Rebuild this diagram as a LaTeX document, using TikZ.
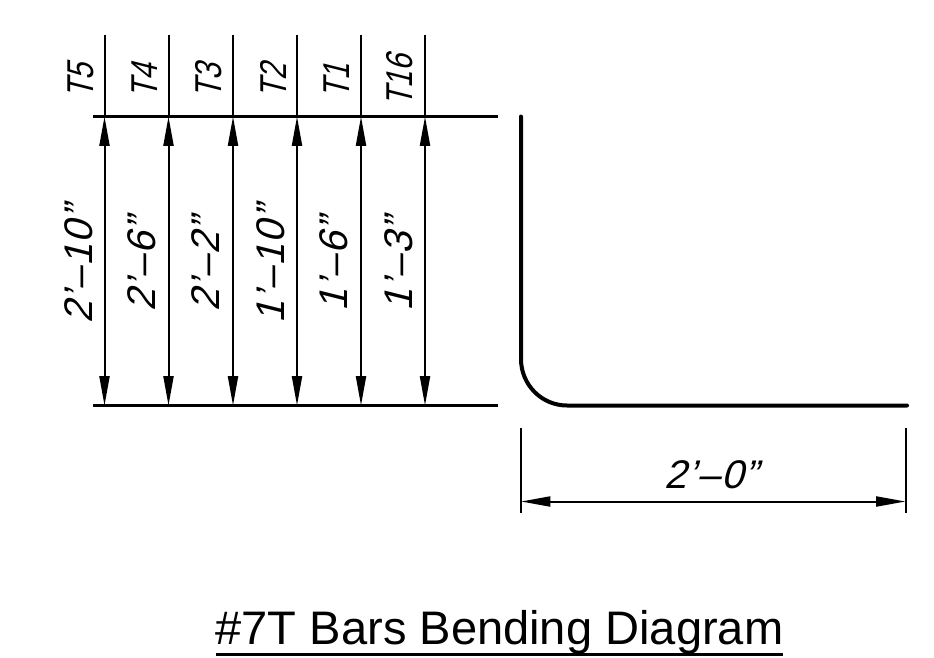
\documentclass[tikz,border=0pt]{standalone}
\usepackage{fontspec}
\setmainfont{Liberation Sans}
\newfontfamily\dimfont[FakeSlant=0.25,LetterSpace=3]{Liberation Sans}
\newfontfamily\tagfont[FakeSlant=0.25,FakeStretch=0.8]{Liberation Sans}
\usetikzlibrary{arrows.meta, calc, positioning}
\tikzset{
    dimline/.style={line width=1.5pt, {Triangle[length=22pt,width=7.5pt]}-{Triangle[length=22pt,width=7.5pt]}},
    extline/.style={line width=1.5pt},
    refline/.style={line width=1.9pt},
    barline/.style={line width=3pt, line cap=round, line join=round},
    dimtext/.style={font=\dimfont\fontsize{30}{33}\selectfont, inner sep=0pt},
    tagtext/.style={font=\tagfont\fontsize{28}{32}\selectfont, inner sep=0pt, rotate=90}
}
\begin{document}
\begin{tikzpicture}[x=0.75pt, y=-0.75pt]
    \useasboundingbox (0,0) rectangle (934,657);
    % Reference lines
    \coordinate (topL) at (93,116.5);
    \coordinate (topR) at (498,116.5);
    \coordinate (botL) at (93,405.5);
    \coordinate (botR) at (498,405.5);
    \draw[refline] (topL) -- (topR);
    \draw[refline] (botL) -- (botR);

    % Bar heights
    \foreach \n/\x/\tx/\tag/\dx/\len in {a/104.5/81/T5/79/2’–10”,
                                        b/168.5/145/T4/142/2’–6”,
                                        c/233/209/T3/206/2’–2”,
                                        d/297/273/T2/271/1’–10”,
                                        e/361/337/T1/334/1’–6”,
                                        f/425/400/T16/399/1’–3”} {
        \coordinate (\n top) at (\x,35);
        \coordinate (\n up) at (\x,116.5);
        \coordinate (\n low) at (\x,405.5);
        \draw[extline] (\n top) -- (\n up);
        \draw[dimline] (\n up) -- (\n low);
        \node[tagtext] (tag\n) at (\tx,81) {\tag};
        \node[dimtext, rotate=90] (len\n) at (\dx,265) {\len};
    }

    % Bent bar
    \coordinate (barTop) at (521,116.5);
    \coordinate (barEnd) at (907,405.5);
    \draw[barline] (barTop) -- (521,359) arc[start angle=180, end angle=270, x radius=46, y radius=-46.5] -- (barEnd);

    % Horizontal leg dimension
    \coordinate (extAt) at (521,428);
    \coordinate (extAb) at (521,513);
    \coordinate (extBt) at (905.5,428);
    \coordinate (extBb) at (905.5,513);
    \draw[extline] (extAt) -- (extAb);
    \draw[extline] (extBt) -- (extBb);
    \coordinate (legL) at (521,501.5);
    \coordinate (legR) at (905.5,501.5);
    \draw[dimline] (legL) -- (legR);
    \node[dimtext] (leglen) at (711,475) {2’–0”};

    % Title
    \node[font=\fontsize{35.3}{40}\selectfont, inner sep=0pt, anchor=base] (title) at (499.5,644) {\#7T Bars Bending Diagram};
    \coordinate (ulL) at (216,654.5);
    \coordinate (ulR) at (783,654.5);
    \draw[line width=1.9pt] (ulL) -- (ulR);
\end{tikzpicture}
\end{document}
